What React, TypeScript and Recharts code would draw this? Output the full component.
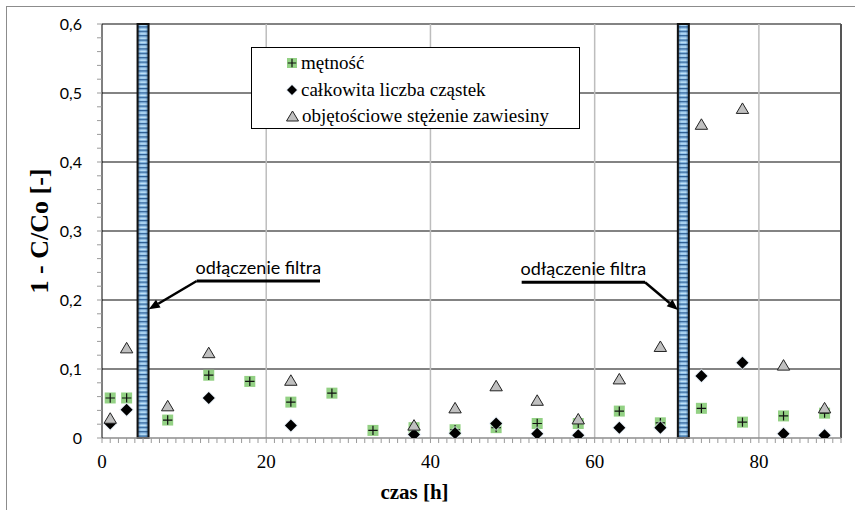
import React from 'react';
import { ScatterChart, Scatter, XAxis, YAxis, CartesianGrid, ReferenceLine, Legend, Label } from 'recharts';

// czas [h]
const timeHours = [1, 3, 8, 13, 18, 23, 28, 33, 38, 43, 48, 53, 58, 63, 68, 73, 78, 83, 88];
// 1 - C/Co for each series (null = no point)
const turbidity = [0.058, 0.058, 0.026, 0.091, 0.082, 0.052, 0.065, 0.011, 0.015, 0.012, 0.015, 0.021, 0.021, 0.039, 0.022, 0.043, 0.023, 0.032, 0.036];
const particleCount = [0.021, 0.041, null, 0.058, null, 0.018, null, null, 0.005, 0.007, 0.021, 0.006, 0.004, 0.015, 0.015, 0.09, 0.109, 0.006, 0.004];
const suspendedVolume = [0.029, 0.131, 0.047, 0.124, null, 0.084, null, null, 0.019, 0.044, 0.076, 0.055, 0.028, 0.086, 0.133, 0.455, 0.478, 0.106, 0.044];

const seriesNames = ['mętność', 'całkowita liczba cząstek', 'objętościowe stężenie zawiesiny'];

// moments when the filter was disconnected
const filterOffTimes = [5, 70.8];

const annotations = [
  { text: 'odłączenie filtra', underline: [11.53, 26.55], lineY: 0.2275, arrowFrom: 11.53, tip: [5.7, 0.1865] },
  { text: 'odłączenie filtra', underline: [51.11, 66.13], lineY: 0.2257, arrowFrom: 66.13, tip: [70.15, 0.1855] },
];

const xMajorTicks = [0, 20, 40, 60, 80];
const yMajorTicks = [0, 0.1, 0.2, 0.3, 0.4, 0.5, 0.6];
const xMinorTicks = Array.from({ length: 91 }, (_, i) => i);
const yMinorTicks = Array.from({ length: 31 }, (_, i) => Number((i * 0.02).toFixed(2)));

const SERIF = '"Liberation Serif", "Times New Roman", serif';
const SANS = 'Lato, "Open Sans", sans-serif';

const toPoints = (vals: (number | null)[]) =>
  timeHours.map((x, i) => ({ x, y: vals[i] })).filter((p) => p.y != null);

const isMajorY = (v: number) => yMajorTicks.some((m) => Math.abs(m - v) < 1e-6);

const XTick = (p: any) => {
  const { x, y, payload } = p;
  const major = xMajorTicks.includes(payload.value);
  return (
    <g>
      <line x1={x} y1={y} x2={x} y2={y + 5} stroke="#9a9a9a" strokeWidth={1} />
      {major && (
        <text x={x} y={y + 30} textAnchor="middle" fontFamily={SERIF} fontSize={19} fill="#000">
          {payload.value}
        </text>
      )}
    </g>
  );
};

const YTick = (p: any) => {
  const { x, y, payload } = p;
  const major = isMajorY(payload.value);
  const label = payload.value === 0 ? '0' : payload.value.toFixed(1).replace('.', ',');
  return (
    <g>
      <line x1={x - 5} y1={y} x2={x} y2={y} stroke="#9a9a9a" strokeWidth={1} />
      {major && (
        <text x={x - 20} y={y + 5.5} textAnchor="end" fontFamily={SANS} fontSize={16} fill="#000">
          {label}
        </text>
      )}
    </g>
  );
};

const CrossSquare = ({ cx, cy, s = 11 }: any) => (
  <g>
    <rect x={cx - s / 2} y={cy - s / 2} width={s} height={s} fill="#93d184" />
    <path d={`M${cx - s / 2 + 0.8} ${cy}H${cx + s / 2 - 0.8}M${cx} ${cy - s / 2 + 0.8}V${cy + s / 2 - 0.8}`} stroke="#111" strokeWidth={1.2} />
  </g>
);

const Diamond = ({ cx, cy, r = 6 }: any) => (
  <g>
    <path d={`M${cx} ${cy - r - 1.5}L${cx + r + 1.5} ${cy}L${cx} ${cy + r + 1.5}L${cx - r - 1.5} ${cy}Z`} fill="#dce8f4" opacity={0.6} />
    <path d={`M${cx} ${cy - r}L${cx + r} ${cy}L${cx} ${cy + r}L${cx - r} ${cy}Z`} fill="#000" />
  </g>
);

const Triangle = ({ cx, cy, w = 12.4, h = 10.5 }: any) => (
  <path
    d={`M${cx} ${cy - h / 2}L${cx + w / 2} ${cy + h / 2}L${cx - w / 2} ${cy + h / 2}Z`}
    fill="#c0c0c0"
    stroke="#222"
    strokeWidth={1}
  />
);

const FilterBar = (p: any) => {
  const top = Math.min(p.y1, p.y2);
  const h = Math.abs(p.y2 - p.y1);
  const x = p.x1 - 5.5;
  return (
    <g>
      <rect x={x} y={top} width={11} height={h} fill="url(#filterStripes)" />
      <rect x={x} y={top} width={11} height={h} fill="url(#filterEdge)" />
      <rect x={x} y={top} width={11} height={h} fill="none" stroke="#111" strokeWidth={2} />
    </g>
  );
};

const Underline = (text: string) => (p: any) => (
  <g>
    <line x1={p.x1} y1={p.y1} x2={p.x2} y2={p.y2} stroke="#000" strokeWidth={3} />
    <text x={(p.x1 + p.x2) / 2} y={p.y1 - 7} textAnchor="middle" fontFamily={SANS} fontSize={18} fill="#000">
      {text}
    </text>
  </g>
);

const Arrow = (p: any) => {
  const { x1, y1, x2, y2 } = p;
  const ang = Math.atan2(y2 - y1, x2 - x1);
  const len = 11;
  const half = 4.5;
  const bx = x2 - len * Math.cos(ang);
  const by = y2 - len * Math.sin(ang);
  const nx = -Math.sin(ang) * half;
  const ny = Math.cos(ang) * half;
  return (
    <g>
      <line x1={x1} y1={y1} x2={bx} y2={by} stroke="#000" strokeWidth={2.5} />
      <path d={`M${x2} ${y2}L${bx + nx} ${by + ny}L${bx - nx} ${by - ny}Z`} fill="#000" />
    </g>
  );
};

const LegendBox = () => {
  const icons = [
    <svg width={12} height={12} key="a"><CrossSquare cx={6} cy={6} s={10} /></svg>,
    <svg width={12} height={12} key="b"><Diamond cx={6} cy={6} r={5} /></svg>,
    <svg width={13} height={12} key="c"><Triangle cx={6.5} cy={6} w={12} h={10} /></svg>,
  ];
  return (
    <div
      style={{
        boxSizing: 'border-box',
        width: 329,
        height: 82,
        border: '1.5px solid #000',
        background: '#fff',
        paddingTop: 2,
        paddingLeft: 34,
      }}
    >
      {seriesNames.map((n, i) => (
        <div key={n} style={{ display: 'flex', alignItems: 'center', height: 26.5 }}>
          {icons[i]}
          <span style={{ marginLeft: 3, fontFamily: SERIF, fontSize: 19, color: '#000', lineHeight: '20px' }}>{n}</span>
        </div>
      ))}
    </div>
  );
};

export default function App() {
  return (
    <div style={{ position: 'absolute', left: 0, top: 0, width: 855, height: 510, background: '#fff' }}>
      <svg width={0} height={0} style={{ position: 'absolute' }}>
        <defs>
          <pattern id="filterStripes" patternUnits="userSpaceOnUse" width={20} height={4.4}>
            <rect x={0} y={0} width={20} height={4.4} fill="#c4e4f8" />
            <rect x={0} y={0} width={20} height={1.3} fill="#2b5b8e" />
            <rect x={0} y={1.3} width={20} height={0.9} fill="#6ea8dc" />
            <rect x={0} y={3.5} width={20} height={0.9} fill="#8fc1ea" />
          </pattern>
          <linearGradient id="filterEdge" x1="0" y1="0" x2="1" y2="0">
            <stop offset="0%" stopColor="#143a66" stopOpacity={0.55} />
            <stop offset="30%" stopColor="#143a66" stopOpacity={0} />
            <stop offset="70%" stopColor="#143a66" stopOpacity={0} />
            <stop offset="100%" stopColor="#143a66" stopOpacity={0.55} />
          </linearGradient>
        </defs>
      </svg>
      <div
        style={{
          position: 'absolute',
          left: 6,
          top: 6,
          width: 849,
          height: 504,
          borderLeft: '1.3px solid #8c8c8c',
          borderTop: '1.3px solid #8c8c8c',
          pointerEvents: 'none',
        }}
      />
      <ScatterChart width={855} height={510} margin={{ top: 24, right: 14, bottom: 0, left: 0 }}>
        <CartesianGrid horizontal vertical={false} horizontalValues={[0.1, 0.2, 0.3, 0.4, 0.5, 0.6]} stroke="#5a5a5a" strokeWidth={1.3} />
        <CartesianGrid horizontal={false} vertical verticalValues={[20, 40, 60, 80]} stroke="#bdbdbd" strokeWidth={1.5} />
        <CartesianGrid horizontal={false} vertical verticalValues={[90]} stroke="#555" strokeWidth={2} />
        <XAxis
          type="number"
          dataKey="x"
          domain={[0, 90]}
          ticks={xMinorTicks}
          interval={0}
          tickSize={0}
          tickMargin={0}
          tickLine={false}
          tick={XTick}
          height={72}
          axisLine={{ stroke: '#8c8c8c', strokeWidth: 1.5 }}
          allowDataOverflow
        >
          <Label
            content={({ viewBox }: any) => (
              <text x={viewBox.x + viewBox.width / 2 - 57} y={viewBox.y + 61} textAnchor="middle" fontFamily={SERIF} fontWeight="bold" fontSize={21} fill="#000">
                czas [h]
              </text>
            )}
          />
        </XAxis>
        <YAxis
          type="number"
          dataKey="y"
          domain={[0, 0.6]}
          ticks={yMinorTicks}
          interval={0}
          tickSize={0}
          tickMargin={0}
          tickLine={false}
          tick={YTick}
          width={102}
          axisLine={{ stroke: '#000', strokeWidth: 1 }}
          allowDataOverflow
        >
          <Label
            content={({ viewBox }: any) => {
              const cx = viewBox.x + 39;
              const cy = viewBox.y + viewBox.height / 2;
              return (
                <text x={cx} y={cy} transform={`rotate(-90 ${cx} ${cy})`} textAnchor="middle" dominantBaseline="central" fontFamily={SERIF} fontWeight="bold" fontSize={26} fill="#000">
                  1 - C/Co [-]
                </text>
              );
            }}
          />
        </YAxis>
        {filterOffTimes.map((t) => (
          <ReferenceLine key={`f${t}`} x={t} shape={FilterBar} />
        ))}
        {annotations.map((a, i) => (
          <ReferenceLine
            key={`u${i}`}
            segment={[{ x: a.underline[0], y: a.lineY }, { x: a.underline[1], y: a.lineY }]}
            shape={Underline(a.text)}
          />
        ))}
        {annotations.map((a, i) => (
          <ReferenceLine
            key={`a${i}`}
            segment={[{ x: a.arrowFrom, y: a.lineY }, { x: a.tip[0], y: a.tip[1] }]}
            shape={Arrow}
          />
        ))}
        <Scatter name={seriesNames[0]} data={toPoints(turbidity)} shape={CrossSquare} isAnimationActive={false} />
        <Scatter name={seriesNames[1]} data={toPoints(particleCount)} shape={Diamond} isAnimationActive={false} />
        <Scatter name={seriesNames[2]} data={toPoints(suspendedVolume)} shape={Triangle} isAnimationActive={false} />
        <Legend
          layout="vertical"
          align="center"
          verticalAlign="middle"
          content={LegendBox}
          wrapperStyle={{ left: 251, top: 47, width: 329, height: 82 }}
        />
      </ScatterChart>
    </div>
  );
}
